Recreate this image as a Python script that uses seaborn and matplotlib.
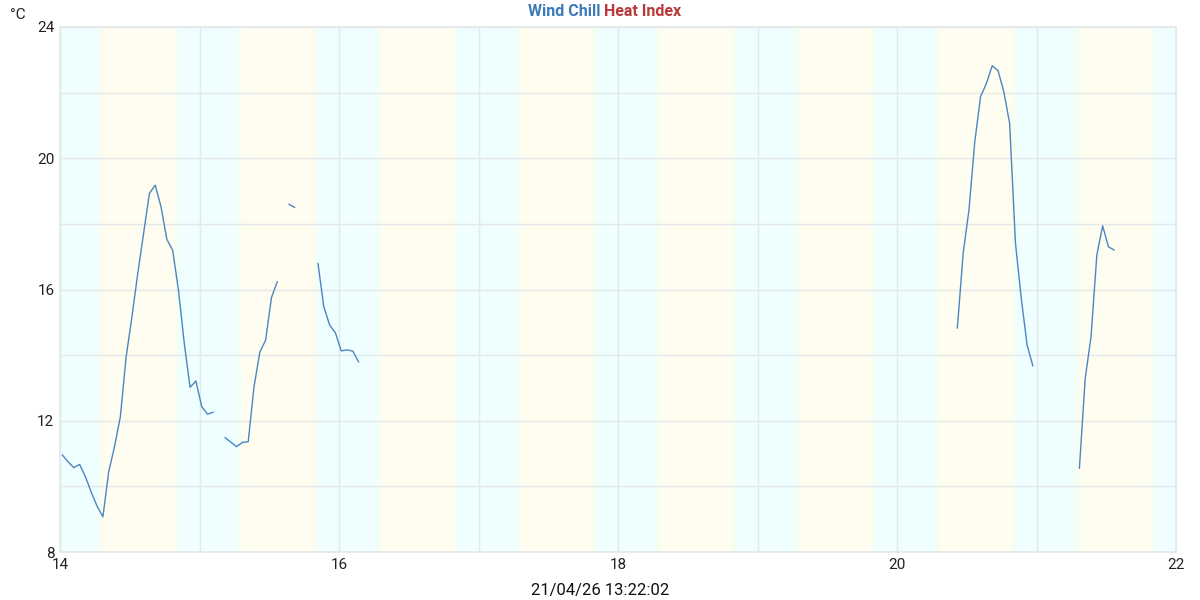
import numpy as np
import pandas as pd
import matplotlib
matplotlib.use("Agg")
import matplotlib.pyplot as plt
import seaborn as sns

# hourly readings, first reading at day 14 + 0.38 h
first_hour = 0.38
seg_start = [0, 28, 39, 44, 154, 175]
seg_values = [
    [10.96, 10.75, 10.57, 10.67, 10.29, 9.82, 9.40, 9.07, 10.45, 11.21, 12.12,
     13.95, 15.17, 16.49, 17.71, 18.93, 19.18, 18.52, 17.53, 17.20, 15.98,
     14.36, 13.02, 13.21, 12.43, 12.20, 12.26],
    [11.49, 11.35, 11.21, 11.34, 11.36, 13.04, 14.09, 14.46, 15.75, 16.24],
    [18.60, 18.50],
    [16.80, 15.48, 14.92, 14.68, 14.13, 14.16, 14.12, 13.79],
    [14.82, 17.10, 18.42, 20.50, 21.88, 22.28, 22.82, 22.67, 22.03, 21.06,
     17.41, 15.73, 14.31, 13.67],
    [10.55, 13.29, 14.56, 17.05, 17.94, 17.30, 17.20],
]

# day / night shading (fraction of day)
days = [13, 14, 15, 16, 17, 18, 19, 20, 21, 22]
sunrise = 0.287
sunset = 0.836

timestamp = "21/04/26 13:22:02"

rows = []
for k, (s, vals) in enumerate(zip(seg_start, seg_values)):
    for i, v in enumerate(vals):
        rows.append({"t": 14 + (s + i + first_hour) / 24, "wc": v, "seg": k})
df = pd.DataFrame(rows)

sns.set_theme(style="white")
plt.rcParams["font.family"] = ["Roboto", "DejaVu Sans"]

fig = plt.figure(figsize=(12, 6), dpi=100)
ax = fig.add_axes([0.05, 0.08, 0.93, 0.875])

night = "#effefe"
day = "#fffdef"
tw = 0.015
ax.axvspan(13, 23, color=night, lw=0, zorder=0)
for d in days:
    ax.axvspan(d + sunrise - tw, d + sunrise + tw, color="#f5fef3", lw=0, zorder=0)
    ax.axvspan(d + sunrise + tw, d + sunset - tw, color=day, lw=0, zorder=0)
    ax.axvspan(d + sunset - tw, d + sunset + tw, color="#f5fef3", lw=0, zorder=0)

sns.lineplot(data=df, x="t", y="wc", units="seg", estimator=None,
             color="#4a86c2", lw=1.0, ax=ax, zorder=4)

ax.set_xlim(14, 22)
ax.set_ylim(8, 24)
ax.set_xticks(np.arange(14, 23, 2))
ax.set_xticks(np.arange(14, 23, 1), minor=True)
ax.set_yticks(np.arange(8, 25, 4))
ax.set_yticks(np.arange(8, 25, 2), minor=True)
ax.grid(True, which="both", color="#e4e8ea", lw=1.0, zorder=1)
ax.set_axisbelow(False)
for sp in ax.spines.values():
    sp.set_color("#e4e8ea")
ax.tick_params(which="both", length=0, labelsize=11, colors="#222222")
ax.tick_params(axis="x", pad=4)
ax.tick_params(axis="y", pad=4)
ax.set_xlabel("")
ax.set_ylabel("")

fig.text(0.008, 0.975, "°C", fontsize=11, color="#222222", ha="left", va="center")
fig.text(0.5, 0.981, "Wind Chill", fontsize=11.5, fontweight="bold",
         color="#3a7ab8", ha="right", va="center")
fig.text(0.5, 0.981, " Heat Index", fontsize=11.5, fontweight="bold",
         color="#b83a3a", ha="left", va="center")
fig.text(0.5, 0.015, timestamp, fontsize=12, color="#111111",
         ha="center", va="center")

fig.savefig("out.png", dpi=100)
